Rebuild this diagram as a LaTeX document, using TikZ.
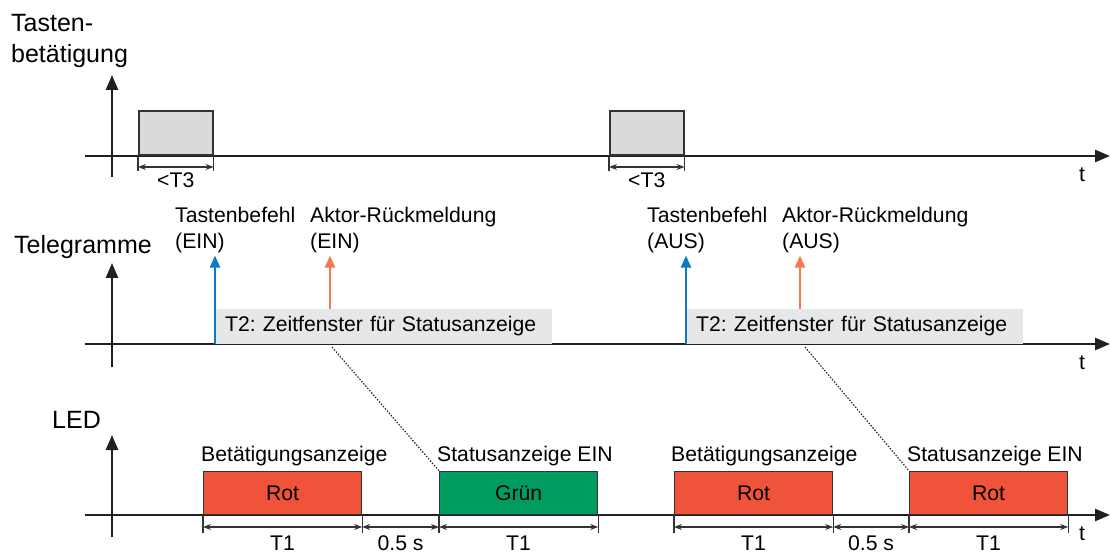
\documentclass[tikz,border=0pt]{standalone}
\usepackage{fontspec}
\setmainfont{Liberation Sans}
\usetikzlibrary{arrows.meta}

\definecolor{axisgray}{HTML}{231F20}
\definecolor{dimgray}{HTML}{333333}
\definecolor{pressfill}{HTML}{D9DADB}
\definecolor{winfill}{HTML}{E6E7E8}
\definecolor{rot}{HTML}{EF5339}
\definecolor{gruen}{HTML}{009B5F}
\definecolor{cmdblue}{HTML}{0A7BC1}
\definecolor{ackorange}{HTML}{F27A4E}

\frenchspacing
\begin{document}
\begin{tikzpicture}[x=1pt,y=-1pt,
  every node/.style={inner sep=0pt},
  lbl/.style={font=\fontsize{21.2}{24}\selectfont},
  title/.style={font=\fontsize{25}{30}\selectfont},
  axis/.style={draw=axisgray, line width=2.5pt, -{Triangle[length=15pt,width=12pt]}},
  tick/.style={draw=dimgray, line width=1.2pt},
  dimline/.style={draw=dimgray, line width=1.2pt,
    {Stealth[length=8pt,width=6pt]}-{Stealth[length=8pt,width=6pt]}},
  pressbox/.style={draw=dimgray, line width=1.5pt, fill=pressfill,
    minimum width=74, minimum height=44, anchor=south west},
  window/.style={fill=winfill, minimum width=337, minimum height=35,
    text width=317, inner xsep=10pt, align=left, anchor=south west, lbl},
  ledbox/.style={draw=dimgray, line width=1.2pt, minimum width=158,
    minimum height=43, anchor=south west, lbl},
  cmdarrow/.style={draw=cmdblue, line width=2.5pt, -{Triangle[length=12pt,width=10pt]}},
  ackarrow/.style={draw=ackorange, line width=2.5pt, -{Triangle[length=12pt,width=10pt]}},
  statusline/.style={draw=axisgray, line width=1.1pt, dash pattern=on 1.5pt off 1.5pt}]
  \useasboundingbox (0,0) rectangle (1111,553);

  % --- Tastenbetaetigung ---
  \node[title, anchor=base west] (tt1) at (11,32) {Tasten-};
  \node[title, anchor=base west] (tt2) at (11,63) {betätigung};
  \draw[axis] (85,156) -- (1110,156);
  \draw[axis] (112,177) -- (112,75);
  \node[lbl, anchor=base] (t1) at (1082,182) {t};

  \node[pressbox] (p1) at (138,156) {};
  \node[pressbox] (p2) at (609,156) {};
  % duration of key press
  \draw[tick] (p1.south west) -- ++(0,15);
  \draw[tick] (p1.south east) -- ++(0,15);
  \draw[dimline] ([yshift=-11pt]p1.south west) -- ([yshift=-11pt]p1.south east)
    node[lbl, midway, anchor=base, yshift=-21pt] {<T3};
  \draw[tick] (p2.south west) -- ++(0,15);
  \draw[tick] (p2.south east) -- ++(0,15);
  \draw[dimline] ([yshift=-11pt]p2.south west) -- ([yshift=-11pt]p2.south east)
    node[lbl, midway, anchor=base, yshift=-21pt] {<T3};

  % --- Telegramme ---
  \node[title, anchor=base west] (tt3) at (14,254) {Telegramme};
  \draw[axis] (85,344) -- (1110,344);
  \draw[axis] (112,367) -- (112,263);
  \node[lbl, anchor=base] (t2) at (1082,369) {t};

  \node[window] (w1) at (215,344) {T2: Zeitfenster für Statusanzeige};
  \node[window] (w2) at (686,344) {T2: Zeitfenster für Statusanzeige};

  \node[lbl, anchor=base west] (cmd1) at (175,223) {Tastenbefehl};
  \node[lbl, anchor=base west] (cmd1b) at (175,249) {(EIN)};
  \node[lbl, anchor=base west] (ack1) at (310,223) {Aktor-Rückmeldung};
  \node[lbl, anchor=base west] (ack1b) at (310,249) {(EIN)};
  \node[lbl, anchor=base west] (cmd2) at (647,223) {Tastenbefehl};
  \node[lbl, anchor=base west] (cmd2b) at (647,249) {(AUS)};
  \node[lbl, anchor=base west] (ack2) at (782,223) {Aktor-Rückmeldung};
  \node[lbl, anchor=base west] (ack2b) at (782,249) {(AUS)};

  % telegram arrows
  \coordinate (a1) at (330,309);
  \coordinate (a2) at (800,309);
  \draw[cmdarrow] (w1.south west) -- ([yshift=-2pt]cmd1b.south -| w1.south west);
  \draw[ackarrow] (a1) -- ([yshift=-2pt]ack1b.south -| a1);
  \draw[cmdarrow] (w2.south west) -- ([yshift=-2pt]cmd2b.south -| w2.south west);
  \draw[ackarrow] (a2) -- ([yshift=-2pt]ack2b.south -| a2);

  % --- LED ---
  \node[title, anchor=base west] (tt4) at (52,428) {LED};
  \draw[axis] (85,515) -- (1110,515);
  \draw[axis] (112,537) -- (112,435);
  \node[lbl, anchor=base] (t3) at (1082,540) {t};

  \node[ledbox, fill=rot] (led1) at (203,515) {Rot};
  \node[ledbox, fill=gruen] (led2) at (439,515) {Grün};
  \node[ledbox, fill=rot] (led3) at (674,515) {Rot};
  \node[ledbox, fill=rot] (led4) at (909,515) {Rot};
  \node[lbl, anchor=base west] (l1) at (201,461) {Betätigungsanzeige};
  \node[lbl, anchor=base west] (l2) at (437,461) {Statusanzeige EIN};
  \node[lbl, anchor=base west] (l3) at (671,461) {Betätigungsanzeige};
  \node[lbl, anchor=base west] (l4) at (907,461) {Statusanzeige EIN};

  % end of status window -> status display
  \coordinate (s1) at (332,347);
  \coordinate (s2) at (805,347);
  \draw[statusline] (s1) -- (led2.north west);
  \draw[statusline] (s2) -- (led4.north west);

  % timing
  \draw[tick] (led1.south west) -- ++(0,18);
  \draw[tick] (led1.south east) -- ++(0,18);
  \draw[tick] (led2.south west) -- ++(0,18);
  \draw[tick] (led2.south east) -- ++(0,18);
  \draw[tick] (led3.south west) -- ++(0,18);
  \draw[tick] (led3.south east) -- ++(0,18);
  \draw[tick] (led4.south west) -- ++(0,18);
  \draw[tick] (led4.south east) -- ++(0,18);
  \draw[dimline] ([yshift=-12pt]led1.south west) -- ([yshift=-12pt]led1.south east)
    node[lbl, midway, anchor=base, yshift=-23pt] {T1};
  \draw[dimline] ([yshift=-12pt]led1.south east) -- ([yshift=-12pt]led2.south west)
    node[lbl, midway, anchor=base, yshift=-23pt] {0.5 s};
  \draw[dimline] ([yshift=-12pt]led2.south west) -- ([yshift=-12pt]led2.south east)
    node[lbl, midway, anchor=base, yshift=-23pt] {T1};
  \draw[dimline] ([yshift=-12pt]led3.south west) -- ([yshift=-12pt]led3.south east)
    node[lbl, midway, anchor=base, yshift=-23pt] {T1};
  \draw[dimline] ([yshift=-12pt]led3.south east) -- ([yshift=-12pt]led4.south west)
    node[lbl, midway, anchor=base, yshift=-23pt] {0.5 s};
  \draw[dimline] ([yshift=-12pt]led4.south west) -- ([yshift=-12pt]led4.south east)
    node[lbl, midway, anchor=base, yshift=-23pt] {T1};
\end{tikzpicture}
\end{document}
